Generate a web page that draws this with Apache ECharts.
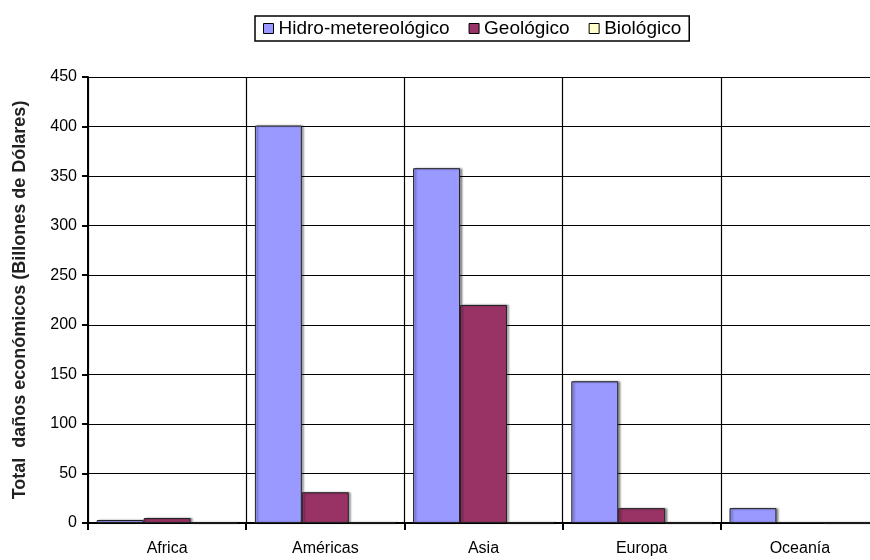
<!DOCTYPE html>
<html>
<head>
<meta charset="utf-8">
<script src="https://cdn.jsdelivr.net/npm/echarts@6/dist/echarts.min.js"></script>
<style>
  html, body { margin: 0; padding: 0; background: #fff; overflow: hidden; }
  /* the plot area runs slightly past the right edge of the window */
  #chart { width: 880px; height: 560px; }
</style>
</head>
<body>
<div id="chart"></div>
<script>
// Economic damage by region and disaster type (billions of dollars)
const regiones = ['Africa', 'Américas', 'Asia', 'Europa', 'Oceanía'];
const hidroMeteorologico = [3, 401, 358, 143, 15];
const geologico = [5, 31, 220, 15, 1];
const biologico = [0.2, 0.3, 0.3, 0.1, 0.1];
const yTicks = [0, 50, 100, 150, 200, 250, 300, 350, 400, 450];

const fontFamily = 'Liberation Sans, Arial, sans-serif';
const chart = echarts.init(document.getElementById('chart'));

const barStyle = {
  borderColor: '#222',
  borderWidth: 1,
  shadowColor: 'rgba(0,0,0,0.4)',
  shadowBlur: 2,
  shadowOffsetX: 2,
  shadowOffsetY: 0
};

chart.setOption({
  animation: false,
  textStyle: { fontFamily: fontFamily },
  legend: {
    left: 255,
    top: 16,
    padding: [3, 8, 3, 8],
    borderColor: '#000',
    borderWidth: 1.5,
    itemWidth: 10,
    itemHeight: 10,
    itemGap: 19,
    icon: 'rect',
    itemStyle: { borderColor: '#000', borderWidth: 1 },
    textStyle: { fontFamily: fontFamily, fontSize: 19, color: '#000', padding: [0, 0, 0, 0] },
    data: ['Hidro-metereológico', 'Geológico', 'Biológico']
  },
  grid: { left: 88, right: 1, top: 77, bottom: 37, containLabel: false },
  xAxis: {
    type: 'category',
    data: regiones,
    axisLine: { lineStyle: { color: '#000', width: 2 } },
    axisTick: { show: true, alignWithLabel: false, length: 7, lineStyle: { color: '#000', width: 2 } },
    splitLine: { show: true, lineStyle: { color: '#000', width: 1.2 } },
    axisLabel: { margin: 18, fontSize: 16, color: '#000', fontFamily: fontFamily }
  },
  yAxis: {
    type: 'value',
    min: yTicks[0],
    max: yTicks[yTicks.length - 1],
    interval: 50,
    name: 'Total  daños económicos (Billones de Dólares)',
    nameLocation: 'middle',
    nameGap: 59,
    nameTextStyle: { fontSize: 18, fontWeight: 'bold', color: '#222', fontFamily: fontFamily },
    axisLine: { show: true, lineStyle: { color: '#000', width: 2 } },
    axisTick: { show: true, inside: false, length: 6, lineStyle: { color: '#000', width: 2 } },
    splitLine: { show: true, lineStyle: { color: '#000', width: 1.2 } },
    axisLabel: { margin: 11, fontSize: 16, color: '#000', fontFamily: fontFamily }
  },
  series: [
    {
      name: 'Hidro-metereológico',
      type: 'bar',
      data: hidroMeteorologico,
      barGap: '0%',
      barCategoryGap: '11%',
      itemStyle: Object.assign({ color: '#9999FF' }, barStyle)
    },
    {
      name: 'Geológico',
      type: 'bar',
      data: geologico,
      itemStyle: Object.assign({ color: '#993366' }, barStyle)
    },
    {
      name: 'Biológico',
      type: 'bar',
      data: biologico,
      itemStyle: Object.assign({ color: '#FFFFCC' }, barStyle)
    }
  ]
});
</script>
</body>
</html>
